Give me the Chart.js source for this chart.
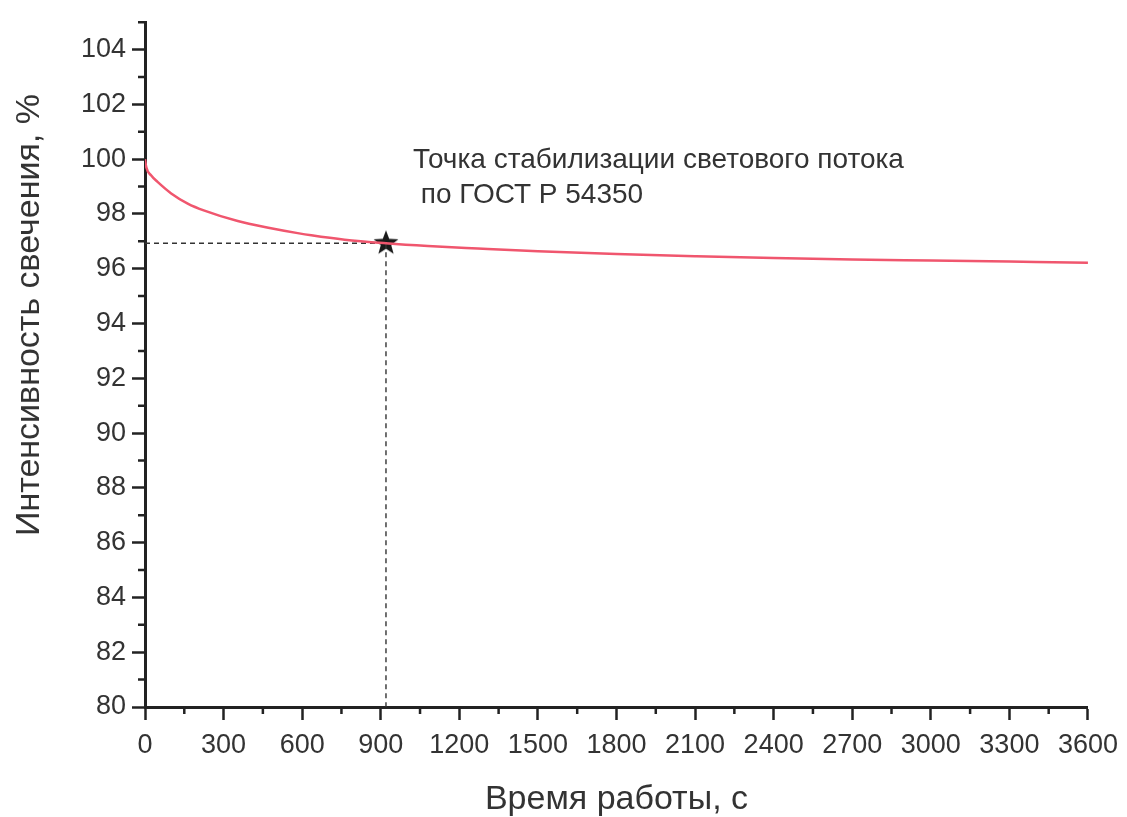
<!DOCTYPE html>
<html lang="ru">
<head>
<meta charset="utf-8">
<script src="https://cdn.jsdelivr.net/npm/chart.js@4.4.1/dist/chart.umd.min.js"></script>
<style>
    body { margin: 0; background: #fff; }
    canvas { display: block; }
</style>
</head>
<body>

<canvas id="flux-chart" width="1127" height="817"></canvas>

<script>
    // время работы, с  /  интенсивность, %
    const times = [0, 5, 23, 48, 100, 163, 227, 354, 481, 583, 635, 762, 920, 1080, 1271, 1500, 1800, 2100, 2400, 2700, 3000, 3300, 3600];
    const intensity = [100, 99.7, 99.41, 99.17, 98.75, 98.38, 98.12, 97.74, 97.48, 97.3, 97.22, 97.06, 96.93, 96.83, 96.74, 96.64, 96.54, 96.46, 96.39, 96.34, 96.3, 96.26, 96.22];

    const stabTime = 920;
    const stabValue = 96.93;

    const xTicks = [0, 300, 600, 900, 1200, 1500, 1800, 2100, 2400, 2700, 3000, 3300, 3600];
    const yTicks = [80, 82, 84, 86, 88, 90, 92, 94, 96, 98, 100, 102, 104];
    const xMinor = [150, 450, 750, 1050, 1350, 1650, 1950, 2250, 2550, 2850, 3150, 3450];
    const yMinor = [81, 83, 85, 87, 89, 91, 93, 95, 97, 99, 101, 103, 105];

    const noteLines = ["Точка стабилизации светового потока", " по ГОСТ Р 54350"];
    const yTitle = "Интенсивность свечения, %";
    const xTitle = "Время работы, с";

    const FONT = "'Liberation Sans', Arial, sans-serif";

    // filled five-point star for the stabilisation point
    function makeStar(r) {
        const c = document.createElement("canvas");
        c.width = c.height = r * 2 + 2;
        const g = c.getContext("2d");
        g.translate(r + 1, r + 1);
        g.beginPath();
        for (let i = 0; i < 10; i++) {
            const rad = i % 2 === 0 ? r : r * 0.42;
            const a = -Math.PI / 2 + i * Math.PI / 5;
            g.lineTo(rad * Math.cos(a), rad * Math.sin(a));
        }
        g.closePath();
        g.fillStyle = "#1a1a1a";
        g.fill();
        return c;
    }

    const extras = {
        id: "extras",
        afterDraw(chart) {
            const ctx = chart.ctx;
            const xs = chart.scales.x, ys = chart.scales.y;
            const left = chart.chartArea.left, bottom = chart.chartArea.bottom;
            ctx.save();
            ctx.strokeStyle = "#222";
            ctx.lineWidth = 2.5;
            ctx.beginPath();
            yMinor.forEach(v => {
                const p = ys.getPixelForValue(v);
                ctx.moveTo(left - 7, p);
                ctx.lineTo(left, p);
            });
            xMinor.forEach(v => {
                const p = xs.getPixelForValue(v);
                ctx.moveTo(p, bottom);
                ctx.lineTo(p, bottom + 7);
            });
            ctx.stroke();

            ctx.fillStyle = "#333";
            ctx.font = "28px " + FONT;
            ctx.textBaseline = "middle";
            ctx.fillText(noteLines[0], 413, 160);
            ctx.fillText(noteLines[1], 413, 195);

            ctx.font = "34px " + FONT;
            ctx.translate(30, 315);
            ctx.rotate(-Math.PI / 2);
            ctx.textAlign = "center";
            ctx.fillText(yTitle, 0, 0);
            ctx.restore();
        }
    };

    new Chart("flux-chart", {
        type: "line",
        data: {
            datasets: [
                {
                    data: times.map((t, i) => ({x: t, y: intensity[i]})),
                    borderColor: "rgb(240,86,110)",
                    borderWidth: 2.5,
                    pointRadius: 0,
                    cubicInterpolationMode: "monotone"
                },
                {
                    data: [{x: 0, y: stabValue}, {x: stabTime, y: stabValue}],
                    borderColor: "#333",
                    borderWidth: 1.4,
                    borderDash: [5, 4],
                    pointRadius: 0
                },
                {
                    data: [{x: stabTime, y: stabValue}, {x: stabTime, y: 80}],
                    borderColor: "#333",
                    borderWidth: 1.4,
                    borderDash: [5, 4],
                    pointRadius: 0
                },
                {
                    data: [{x: stabTime, y: stabValue}],
                    showLine: false,
                    pointStyle: makeStar(13),
                    pointRadius: 13
                }
            ]
        },
        options: {
            responsive: false,
            animation: false,
            layout: {padding: {top: 15, right: 39, left: 0, bottom: 0}},
            plugins: {legend: {display: false}, tooltip: {enabled: false}},
            scales: {
                x: {
                    type: "linear",
                    min: 0,
                    max: 3600,
                    afterBuildTicks: s => { s.ticks = xTicks.map(v => ({value: v})); },
                    afterFit: s => { s.height = 110; },
                    grid: {drawOnChartArea: false, tickLength: 13, tickWidth: 2.5, tickColor: "#222"},
                    border: {color: "#222", width: 3},
                    ticks: {color: "#333", padding: 9, maxRotation: 0, autoSkip: false,
                            callback: v => String(v),
                            font: {family: FONT, size: 27}},
                    title: {display: true, text: xTitle, color: "#333", padding: {top: 0, bottom: 0},
                            font: {family: FONT, size: 34, lineHeight: 1}}
                },
                y: {
                    min: 80,
                    max: 105,
                    afterBuildTicks: s => { s.ticks = yTicks.map(v => ({value: v})); },
                    afterFit: s => { s.width = 145; },
                    grid: {drawOnChartArea: false, tickLength: 13, tickWidth: 2.5, tickColor: "#222"},
                    border: {color: "#222", width: 3},
                    ticks: {color: "#333", padding: 6, callback: v => String(v),
                            font: {family: FONT, size: 27}}
                }
            }
        },
        plugins: [extras]
    });
</script>

</body>
</html>
